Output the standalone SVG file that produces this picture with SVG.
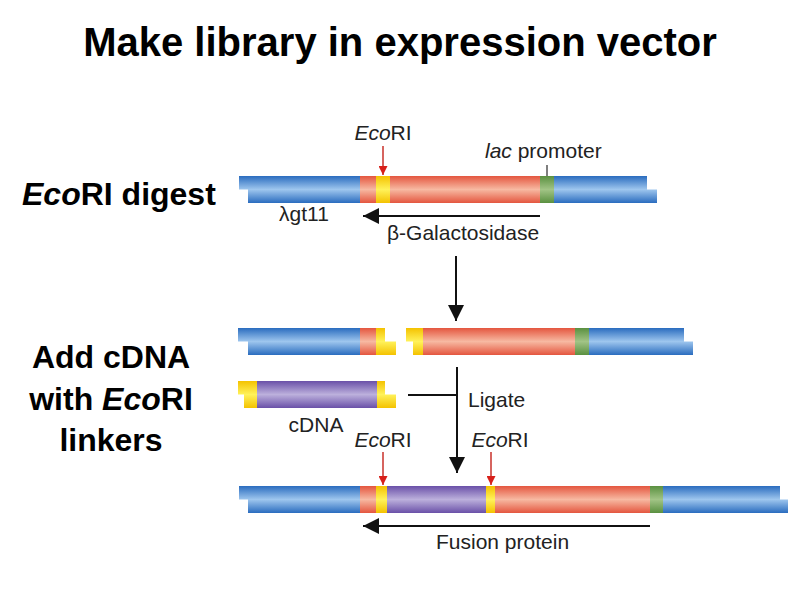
<svg xmlns="http://www.w3.org/2000/svg" width="800" height="600" viewBox="0 0 800 600">
<style>
.t{font-family:"Liberation Sans",Arial,sans-serif;fill:#000}
.title{font-size:40px;font-weight:bold}
.side{font-size:32px;font-weight:bold}
.lbl{font-size:21px;fill:#222}
.blue{fill:url(#gBlue)}
.red{fill:url(#gRed)}
.yel{fill:url(#gYel)}
.grn{fill:url(#gGrn)}
.pur{fill:url(#gPur)}
.blk{stroke:#111;stroke-width:2;fill:none}
.redl{stroke:#c8302a;stroke-width:1.5;fill:none}
</style>
<defs>
<linearGradient id="gBlue" x1="0" y1="0" x2="0" y2="1"><stop offset="0" stop-color="#2a6cbf"/><stop offset="0.5" stop-color="#9ec6ee"/><stop offset="1" stop-color="#2a6cbf"/></linearGradient>
<linearGradient id="gRed" x1="0" y1="0" x2="0" y2="1"><stop offset="0" stop-color="#e4563f"/><stop offset="0.5" stop-color="#f7b9a2"/><stop offset="1" stop-color="#e4563f"/></linearGradient>
<linearGradient id="gYel" x1="0" y1="0" x2="0" y2="1"><stop offset="0" stop-color="#f4c200"/><stop offset="0.5" stop-color="#fff25a"/><stop offset="1" stop-color="#f4c200"/></linearGradient>
<linearGradient id="gGrn" x1="0" y1="0" x2="0" y2="1"><stop offset="0" stop-color="#5a9040"/><stop offset="0.5" stop-color="#a2c486"/><stop offset="1" stop-color="#5a9040"/></linearGradient>
<linearGradient id="gPur" x1="0" y1="0" x2="0" y2="1"><stop offset="0" stop-color="#6a50a8"/><stop offset="0.5" stop-color="#bcb0dc"/><stop offset="1" stop-color="#6a50a8"/></linearGradient>
<clipPath id="c1"><path d="M239,176H647V189.5H657V203H248V189.5H239Z"/></clipPath>
<clipPath id="c2a"><path d="M238,328H385V341.5H396V355H248V341.5H238Z"/></clipPath>
<clipPath id="c2b"><path d="M406,328H684V341.5H693V355H413V341.5H406Z"/></clipPath>
<clipPath id="cc"><path d="M238,381H385V394.5H396V408H244V394.5H238Z"/></clipPath>
<clipPath id="c3"><path d="M239,486H780V499.5H788V513H248V499.5H239Z"/></clipPath>
<marker id="ahBig" viewBox="0 0 10 10" refX="10" refY="5" markerWidth="16" markerHeight="16" markerUnits="userSpaceOnUse" orient="auto"><path d="M0,0L10,5L0,10Z" fill="#111"/></marker>
<marker id="ahR" viewBox="0 0 10 10" refX="10" refY="5" markerWidth="9" markerHeight="9" markerUnits="userSpaceOnUse" orient="auto"><path d="M0,0L10,5L0,10Z" fill="#d8201a"/></marker>
</defs>

<text class="t title" x="400" y="56" text-anchor="middle">Make library in expression vector</text>

<g id="side-labels">
<text class="t side" x="22" y="205"><tspan font-style="italic">Eco</tspan>RI digest</text>
<text class="t side" x="111" y="368" text-anchor="middle">Add cDNA</text>
<text class="t side" x="111" y="410" text-anchor="middle">with <tspan font-style="italic">Eco</tspan>RI</text>
<text class="t side" x="111" y="451" text-anchor="middle">linkers</text>
</g>

<g id="vector-lgt11">
<g clip-path="url(#c1)">
<rect class="blue" x="239" y="176" width="121" height="27"/>
<rect class="red" x="360" y="176" width="180" height="27"/>
<rect class="yel" x="376" y="176" width="14" height="27"/>
<rect class="grn" x="540" y="176" width="14" height="27"/>
<rect class="blue" x="554" y="176" width="103" height="27"/>
</g>
<text class="t lbl" x="383" y="140" text-anchor="middle"><tspan font-style="italic">Eco</tspan>RI</text>
<text class="t lbl" x="485" y="158"><tspan font-style="italic">lac</tspan> promoter</text>
<text class="t lbl" x="279" y="221">λgt11</text>
<text class="t lbl" x="387" y="240">β-Galactosidase</text>
</g>

<g id="left-arm">
<g clip-path="url(#c2a)">
<rect class="blue" x="238" y="328" width="122" height="27"/>
<rect class="red" x="360" y="328" width="16" height="27"/>
<rect class="yel" x="376" y="328" width="20" height="27"/>
</g>
</g>

<g id="right-arm">
<g clip-path="url(#c2b)">
<rect class="yel" x="406" y="328" width="17" height="27"/>
<rect class="red" x="423" y="328" width="152" height="27"/>
<rect class="grn" x="575" y="328" width="14" height="27"/>
<rect class="blue" x="589" y="328" width="104" height="27"/>
</g>
</g>

<g id="cdna">
<g clip-path="url(#cc)">
<rect class="yel" x="238" y="381" width="19" height="27"/>
<rect class="pur" x="257" y="381" width="120" height="27"/>
<rect class="yel" x="377" y="381" width="19" height="27"/>
</g>
<text class="t lbl" x="316" y="432" text-anchor="middle">cDNA</text>
</g>

<g id="fusion-vector">
<g clip-path="url(#c3)">
<rect class="blue" x="239" y="486" width="121" height="27"/>
<rect class="red" x="360" y="486" width="16" height="27"/>
<rect class="yel" x="376" y="486" width="11" height="27"/>
<rect class="pur" x="387" y="486" width="99" height="27"/>
<rect class="yel" x="486" y="486" width="9" height="27"/>
<rect class="red" x="495" y="486" width="155" height="27"/>
<rect class="grn" x="650" y="486" width="13" height="27"/>
<rect class="blue" x="663" y="486" width="125" height="27"/>
</g>
<text class="t lbl" x="383" y="447" text-anchor="middle"><tspan font-style="italic">Eco</tspan>RI</text>
<text class="t lbl" x="500" y="447" text-anchor="middle"><tspan font-style="italic">Eco</tspan>RI</text>
<text class="t lbl" x="436" y="549">Fusion protein</text>
</g>

<text class="t lbl" x="468" y="407">Ligate</text>

<g id="connectors">
<line class="redl" x1="383" y1="146" x2="383" y2="175" marker-end="url(#ahR)"/>
<line x1="547" y1="165" x2="547" y2="176" stroke="#555" stroke-width="1.5"/>
<line class="blk" x1="540" y1="216" x2="363" y2="216" marker-end="url(#ahBig)"/>
<line class="blk" x1="456" y1="256" x2="456" y2="321" marker-end="url(#ahBig)"/>
<line class="blk" x1="408" y1="395" x2="457" y2="395"/>
<line class="blk" x1="457" y1="367" x2="457" y2="473" marker-end="url(#ahBig)"/>
<line class="redl" x1="383" y1="452" x2="383" y2="485" marker-end="url(#ahR)"/>
<line class="redl" x1="491" y1="452" x2="491" y2="485" marker-end="url(#ahR)"/>
<line class="blk" x1="650" y1="526" x2="363" y2="526" marker-end="url(#ahBig)"/>
</g>
</svg>
